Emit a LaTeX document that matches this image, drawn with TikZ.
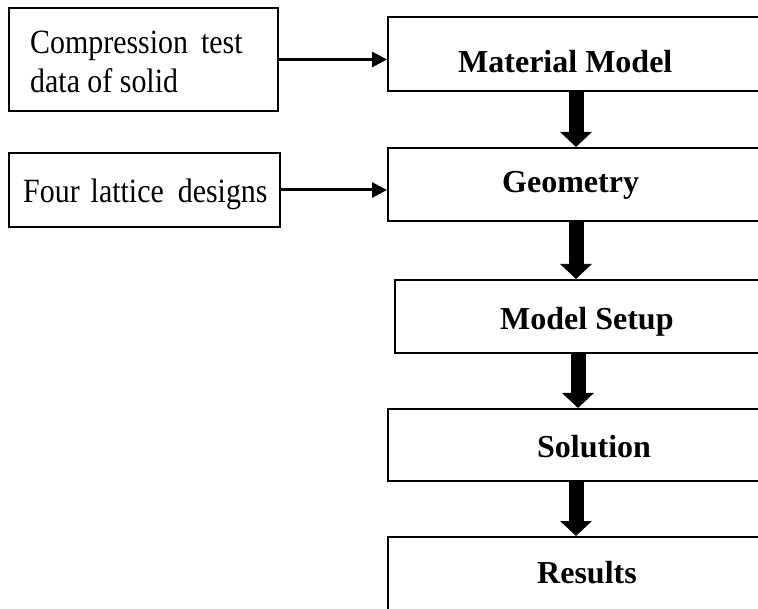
\documentclass[tikz,border=0pt]{standalone}
\usepackage{fontspec}
\setmainfont{Liberation Serif}
\newfontfamily\narrowserif{Liberation Serif}[FakeStretch=0.88]
\usetikzlibrary{arrows.meta,positioning,calc}

\tikzset{
  box/.style={draw, line width=2pt, rectangle, inner sep=0pt},
  txt/.style={inner sep=0pt, anchor=base west, font=\narrowserif\fontsize{34}{40}\selectfont},
  btxt/.style={inner sep=0pt, anchor=base west, font=\fontsize{32}{40}\selectfont\bfseries},
  thin/.style={line width=3pt, -{Triangle[width=15pt,length=15pt]}},
  fat/.style={line width=15pt, -{Triangle[width=31pt,length=15pt]}}
}

\begin{document}
\begin{tikzpicture}[x=1pt, y=-1pt]

      \clip (0,0) rectangle (758,609);
      %\draw[red] (0,0) rectangle (758,609);

      % input boxes on the left
      \node[box, minimum width=269pt, minimum height=103pt] at (143.5,59.5) (data) {};
      \node[box, minimum width=271pt, minimum height=74pt] at (144.5,190) (lattice) {};

      \node[txt] at (30,54) (data1) {Compression\hspace{13pt}test};
      \node[txt] at (30,93) (data2) {data of solid};
      \node[txt] at (23,203) (latt) {Four\hspace{11pt}lattice\hspace{14pt}designs};

      % main chain on the right (cut off by the page)
      \node[box, minimum width=400pt, minimum height=74pt] at (588,54) (mm) {};
      \node[box, minimum width=400pt, minimum height=73pt] at (588,184.5) (geo) {};
      \node[box, minimum width=400pt, minimum height=73pt] at (595,316.5) (setup) {};
      \node[box, minimum width=400pt, minimum height=72pt] at (588,445) (sol) {};
      \node[box, minimum width=400pt, minimum height=74pt] at (588,574) (res) {};

      \node[btxt] at (458,73) (mmt) {Material Model};
      \node[btxt] at (502,193) (geot) {Geometry};
      \node[btxt] at (500,330) (setupt) {Model Setup};
      \node[btxt] at (537,457) (solt) {Solution};
      \node[btxt] at (537,583) (rest) {Results};

      \coordinate (spine) at (576,0);

      \draw[thin] (data.east) -- (data.east -| mm.west);
      \draw[thin] (lattice.east) -- (lattice.east -| geo.west);

      \draw[fat] (mm.south -| spine) -- (geo.north -| spine);
      \draw[fat] (geo.south -| spine) -- (setup.north -| spine);
      \draw[fat] ([xshift=2pt]setup.south -| spine) -- ([xshift=2pt]sol.north -| spine);
      \draw[fat] (sol.south -| spine) -- (res.north -| spine);
    \end{tikzpicture}
\end{document}
